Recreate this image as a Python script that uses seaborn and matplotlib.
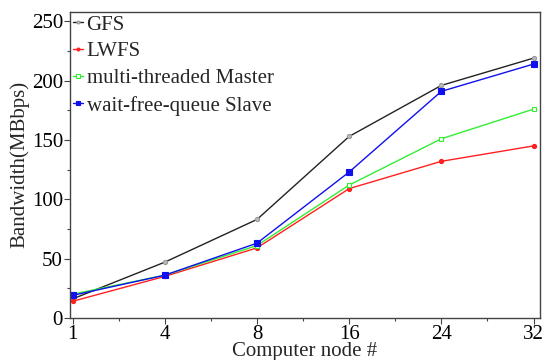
import matplotlib
matplotlib.use("Agg")
import matplotlib.pyplot as plt
import seaborn as sns
import pandas as pd
from matplotlib.ticker import MultipleLocator

nodes = ["1", "4", "8", "16", "24", "32"]
gfs = [16, 47, 83, 153, 196, 219]
lwfs = [14, 35, 59, 109, 132, 145]
mt_master = [20, 36, 61, 112, 151, 176]
wfq_slave = [19, 36, 63, 123, 191, 214]

series = {
    "GFS": gfs,
    "LWFS": lwfs,
    "multi-threaded Master": mt_master,
    "wait-free-queue Slave": wfq_slave,
}
rows = []
for name, vals in series.items():
    for i, v in enumerate(vals):
        rows.append({"pos": i, "node": nodes[i], "bw": v, "series": name})
df = pd.DataFrame(rows)

sns.set_style("white")
plt.rcParams["font.family"] = ["Liberation Serif", "DejaVu Serif"]

fig = plt.figure(figsize=(5.46, 3.6), dpi=100)
ax = fig.add_axes([0.128, 0.117, 0.861, 0.85])

palette = {"GFS": "#222222", "LWFS": "#ff2020", "multi-threaded Master": "#33ee33",
           "wait-free-queue Slave": "#1010ee"}
markers = {"GFS": "o", "LWFS": "o", "multi-threaded Master": "s", "wait-free-queue Slave": "s"}
sizes_m = {"GFS": 3, "LWFS": 3, "multi-threaded Master": 3.5, "wait-free-queue Slave": 4.5}
faces = {"GFS": "#bbbbbb", "LWFS": "#ff2020", "multi-threaded Master": "white",
         "wait-free-queue Slave": "#1010ee"}
edges = {"GFS": "#999999", "LWFS": "#ff2020", "multi-threaded Master": "#33ee33",
         "wait-free-queue Slave": "#1010ee"}

for name in series:
    sub = df[df["series"] == name]
    sns.lineplot(data=sub, x="pos", y="bw", ax=ax, color=palette[name], lw=1.0,
                 marker=markers[name], markersize=sizes_m[name],
                 markerfacecolor=faces[name], markeredgecolor=edges[name],
                 markeredgewidth=0.8, label=name)

ax.set_xlim(-0.03, 5.07)
ax.set_ylim(0, 258)
ax.set_xticks(range(len(nodes)))
ax.set_xticklabels(nodes)
ax.xaxis.set_minor_locator(MultipleLocator(0.5))
ax.yaxis.set_major_locator(MultipleLocator(50))
ax.yaxis.set_minor_locator(MultipleLocator(25))
ax.tick_params(axis="both", which="major", direction="out", length=4, width=0.8,
               labelsize=15, pad=1, colors="#444444", labelcolor="black")
ax.tick_params(axis="both", which="minor", direction="out", length=2.5, width=0.8,
               colors="#444444")
ax.tick_params(axis="x", which="both", bottom=True)
ax.tick_params(axis="y", which="both", left=True)
for s in ax.spines.values():
    s.set_color("#444444")
    s.set_linewidth(1.0)

ax.set_xlabel("Computer node #", fontsize=15, labelpad=-1)
ax.set_ylabel("Bandwidth(MBbps)", fontsize=15, labelpad=2)

leg = ax.legend(loc="upper left", frameon=False, fontsize=15, handlelength=0.5,
                handletextpad=0.15, labelspacing=0.35, borderaxespad=0.05,
                borderpad=0.1, markerscale=0.7)

fig.savefig("out.png", dpi=100)
